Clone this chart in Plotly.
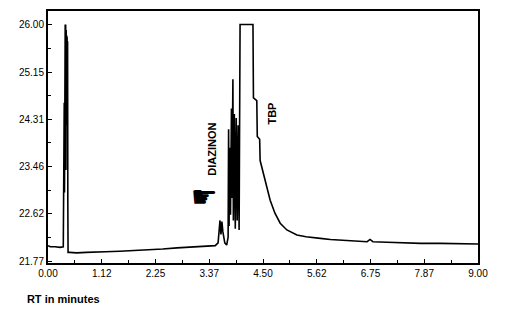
import plotly.graph_objects as go

# Retention time (minutes) and detector signal
rt = [0.00, 0.05, 0.15, 0.25, 0.32,
      0.330, 0.335, 0.340, 0.345, 0.350, 0.355, 0.360, 0.365, 0.370, 0.375,
      0.380, 0.385, 0.390, 0.395, 0.400, 0.405, 0.410, 0.415, 0.420,
      0.45, 0.60, 0.80, 1.00, 1.20, 1.50, 1.80, 2.10, 2.40, 2.70, 3.00,
      3.30, 3.50, 3.56, 3.60, 3.62, 3.64, 3.66, 3.70, 3.74, 3.77,
      3.78, 3.79, 3.80, 3.82, 3.84, 3.85, 3.87, 3.88, 3.90, 3.92, 3.94,
      3.96, 3.98, 4.00, 4.02, 4.29, 4.30, 4.37, 4.38, 4.43, 4.44, 4.51,
      4.58, 4.65, 4.75, 4.86, 5.00, 5.21, 5.40, 5.56, 5.70, 5.91, 6.20,
      6.50, 6.68, 6.74, 6.80, 7.10, 7.37, 7.80, 8.21, 8.60, 8.94, 9.00]
signal = [22.05, 22.03, 22.03, 22.02, 22.03,
          23.60, 22.40, 24.60, 23.00, 25.40, 23.80, 26.00, 24.00, 26.00, 23.40,
          25.90, 24.20, 25.80, 24.60, 25.76, 24.40, 25.70, 22.80, 21.93,
          21.93, 21.92, 21.93, 21.93, 21.94, 21.95, 21.96, 21.97, 21.99, 22.01, 22.03,
          22.04, 22.05, 22.10, 22.50, 22.25, 22.48, 22.30, 22.10, 22.06, 22.20,
          24.13, 22.40, 23.80, 22.60, 24.50, 22.90, 25.02, 22.50, 24.40, 22.35, 24.33,
          22.50, 24.20, 22.33, 26.00, 26.00, 24.69, 24.64, 24.00, 23.95, 23.57, 23.34,
          23.09, 22.86, 22.63, 22.45, 22.33, 22.24, 22.21, 22.20, 22.18, 22.16, 22.14,
          22.12, 22.12, 22.16, 22.12, 22.11, 22.10, 22.09, 22.09, 22.08, 22.07, 22.08]

x_ticks = [0.00, 1.125, 2.25, 3.375, 4.50, 5.625, 6.75, 7.875, 9.00]
x_tick_labels = ["0.00", "1.12", "2.25", "3.37", "4.50", "5.62", "6.75", "7.87", "9.00"]
y_ticks = [21.77, 22.62, 23.46, 24.31, 25.15, 26.00]
y_tick_labels = ["21.77", "22.62", "23.46", "24.31", "25.15", "26.00"]

peak_names = ["DIAZINON", "TBP"]
peak_rt = [3.43, 4.69]
peak_y = [23.78, 24.41]

pointer_rt = [3.27]
pointer_y = [22.88]
pointer_text = ["☛"]

x_range = [0, 9.0]
y_range = [21.74, 26.24]
x_minor = [(a + b) / 2 for a, b in zip(x_ticks[:-1], x_ticks[1:])]
y_minor = [(a + b) / 2 for a, b in zip(y_ticks[:-1], y_ticks[1:])]

font_family = "Liberation Sans"

fig = go.Figure()
fig.add_trace(go.Scatter(x=rt, y=signal, mode="lines",
                         line=dict(color="black", width=1.6), showlegend=False))
fig.add_trace(go.Scatter(x=pointer_rt, y=pointer_y, mode="text", text=pointer_text,
                         textposition="middle center", showlegend=False,
                         textfont=dict(family="DejaVu Sans", size=30, color="black")))
fig.add_trace(go.Scatter(x=[], y=[], xaxis="x2", yaxis="y2", showlegend=False))

for name, px, py in zip(peak_names, peak_rt, peak_y):
    fig.add_annotation(x=px, y=py, text="<b>%s</b>" % name, textangle=-90,
                       showarrow=False, xref="x", yref="y",
                       font=dict(family=font_family, size=11, color="black"))

axis_common = dict(showline=True, linecolor="black", linewidth=2, mirror=True,
                   showgrid=False, zeroline=False, ticks="inside", ticklen=4,
                   tickcolor="black",
                   tickfont=dict(family=font_family, size=10, color="black"))
minor_common = dict(showticklabels=False, ticks="inside", ticklen=3, tickcolor="black",
                    showgrid=False, zeroline=False, showline=False)

fig.update_layout(
    width=511, height=312, margin=dict(l=40, r=41, t=1, b=57),
    paper_bgcolor="white", plot_bgcolor="white",
    title=dict(text="<b>RT in minutes</b>", x=0.037, y=0.067,
               xref="container", yref="container", xanchor="left", yanchor="middle",
               font=dict(family=font_family, size=11, color="black")),
    xaxis=dict(range=x_range, tickmode="array", tickvals=x_ticks, ticktext=x_tick_labels,
               **axis_common),
    yaxis=dict(range=y_range, tickmode="array", tickvals=y_ticks, ticktext=y_tick_labels,
               **axis_common),
    xaxis2=dict(overlaying="x", range=x_range, tickmode="array", tickvals=x_minor,
                **minor_common),
    yaxis2=dict(overlaying="y", range=y_range, tickmode="array", tickvals=y_minor,
                **minor_common),
)

fig.write_html("out.html")
